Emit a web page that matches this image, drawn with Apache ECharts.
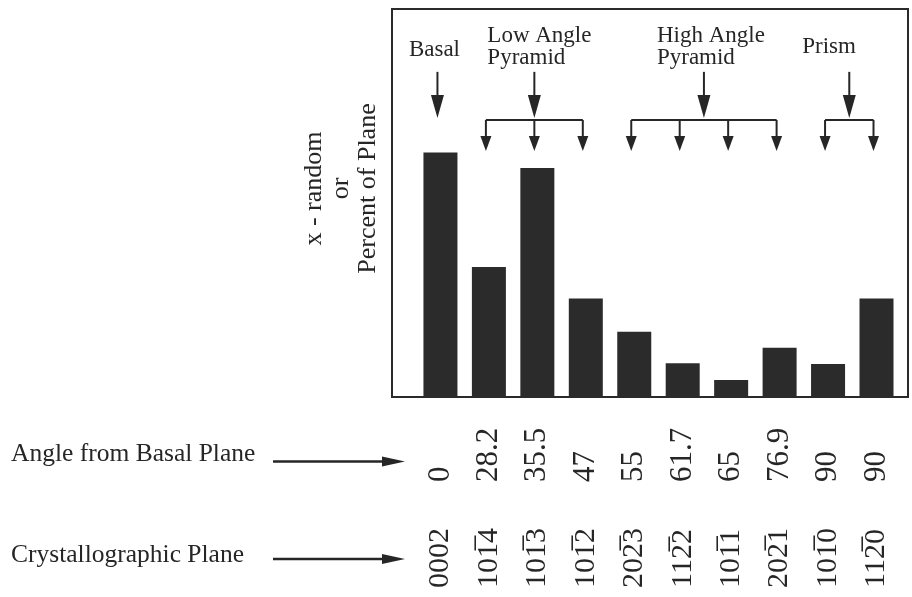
<!DOCTYPE html>
<html>
<head>
<meta charset="utf-8">
<script src="https://cdn.jsdelivr.net/npm/echarts@6/dist/echarts.min.js"></script>
<style>
html,body{margin:0;padding:0;background:#fff;}
#chart{width:912px;height:597px;}
</style>
</head>
<body>
<div id="chart"></div>
<script>
// ---- data ----
const angleLabels = ['0', '28.2', '35.5', '47', '55', '61.7', '65', '76.9', '90', '90'];
const planeLabels = ['0002', '101\u03054', '101\u03053', '101\u03052', '202\u03053', '112\u03052', '101\u03051', '202\u03051', '101\u03050', '112\u03050'];
const values = [63, 33.5, 59, 25.4, 16.8, 8.7, 4.4, 12.7, 8.5, 25.4];
const groupNames = ['Basal', 'Low Angle\nPyramid', 'High Angle\nPyramid', 'Prism'];
const groupMembers = [[0], [1, 2, 3], [4, 5, 6, 7], [8, 9]];
const yTitle = 'x - random\nor\nPercent of Plane';
const rowTitles = ['Angle from Basal Plane', 'Crystallographic Plane'];

const FONT = '"Liberation Serif", "DejaVu Serif", serif';
const INK = '#262626';

function labelFor(list) {
  return function (v) {
    return (Number.isInteger(v) && v >= 0 && v < list.length) ? list[v] : '';
  };
}

const chart = echarts.init(document.getElementById('chart'), null, {renderer: 'canvas'});

function arrowHead(x, tipY, w, h) {
  return {
    type: 'polygon',
    shape: {points: [[x - w / 2, tipY - h], [x + w / 2, tipY - h], [x, tipY]]},
    style: {fill: INK}
  };
}
function vline(x, y1, y2) {
  return {type: 'line', shape: {x1: x, y1: y1, x2: x, y2: y2}, style: {stroke: INK, lineWidth: 2}};
}

const option = {
  backgroundColor: '#fff',
  animation: false,
  grid: {
    left: 392, top: 9, width: 516, height: 388,
    show: true, borderColor: '#2a2a2a', borderWidth: 2, backgroundColor: 'transparent'
  },
  xAxis: [
    {
      type: 'value', min: -1, max: 9.65, interval: 1,
      axisLine: {show: false}, axisTick: {show: false}, splitLine: {show: false},
      axisLabel: {
        formatter: labelFor(angleLabels), rotate: 90, align: 'left', verticalAlign: 'middle',
        margin: 85, fontFamily: FONT, fontSize: 31, color: INK
      }
    },
    {
      type: 'value', min: -1, max: 9.65, interval: 1, position: 'bottom', offset: 0,
      axisLine: {show: false}, axisTick: {show: false}, splitLine: {show: false},
      axisLabel: {
        formatter: labelFor(planeLabels), rotate: 90, align: 'left', verticalAlign: 'middle',
        margin: 191, fontFamily: FONT, fontSize: 30, color: INK
      }
    }
  ],
  yAxis: {
    type: 'value', min: 0, max: 100,
    axisLine: {show: false}, axisTick: {show: false}, splitLine: {show: false}, axisLabel: {show: false},
    name: yTitle, nameLocation: 'middle', nameGap: 10,
    nameTextStyle: {fontFamily: FONT, fontSize: 26, lineHeight: 27, color: INK, padding: [0, 0, 0, 29]}
  },
  graphic: [
    {type: 'text', left: 11, top: 441, style: {text: rowTitles[0], font: '25.5px ' + FONT, fill: INK}},
    {type: 'line', shape: {x1: 273, y1: 461.5, x2: 390, y2: 461.5}, style: {stroke: INK, lineWidth: 2.5}},
    {type: 'polygon', shape: {points: [[382, 456.5], [405, 461.5], [382, 466.5]]}, style: {fill: INK}},
    {type: 'text', left: 11, top: 542, style: {text: rowTitles[1], font: '25.5px ' + FONT, fill: INK}},
    {type: 'line', shape: {x1: 273, y1: 559, x2: 390, y2: 559}, style: {stroke: INK, lineWidth: 2.5}},
    {type: 'polygon', shape: {points: [[382, 554], [405, 559], [382, 564]]}, style: {fill: INK}}
  ],
  series: [
    {
      type: 'bar',
      xAxisIndex: 0,
      data: values.map((v, i) => [i, v]),
      barWidth: 34,
      itemStyle: {color: '#2b2b2b'},
      silent: true
    },
    {
      type: 'custom',
      xAxisIndex: 0,
      silent: true,
      z: 5,
      data: groupMembers.map(m => [m.reduce((a, b) => a + b, 0) / m.length, 0]),
      renderItem: function (params, api) {
        const gi = params.dataIndex;
        const members = groupMembers[gi];
        const dx = -3;
        const cx = api.coord([api.value(0), 0])[0] + dx;
        const stemTop = api.coord([0, 83.8])[1];
        const mainTip = api.coord([0, 71.4])[1];
        const smallTip = api.coord([0, 63.4])[1];
        const children = [];
        children.push(vline(cx, stemTop, mainTip - 20));
        children.push(arrowHead(cx, mainTip - 2, 13, 23));
        if (members.length > 1) {
          const xs = members.map(m => api.coord([m, 0])[0] + dx);
          children.push({type: 'line', shape: {x1: xs[0], y1: mainTip, x2: xs[xs.length - 1], y2: mainTip},
            style: {stroke: INK, lineWidth: 2}});
          xs.forEach(x => {
            children.push(vline(x, mainTip, smallTip - 12));
            children.push(arrowHead(x, smallTip, 11, 15));
          });
          children.push({
            type: 'text',
            style: {
              text: groupNames[gi], x: cx - 47, y: api.coord([0, 90.3])[1],
              align: 'left', verticalAlign: 'middle', font: '23px ' + FONT, lineHeight: 22, fill: INK
            }
          });
        } else {
          children.push({
            type: 'text',
            style: {
              text: groupNames[gi], x: cx - 3, y: api.coord([0, 89.5])[1],
              align: 'center', verticalAlign: 'middle', font: '23px ' + FONT, fill: INK
            }
          });
        }
        return {type: 'group', children: children};
      }
    }
  ]
};
chart.setOption(option);
</script>
</body>
</html>
